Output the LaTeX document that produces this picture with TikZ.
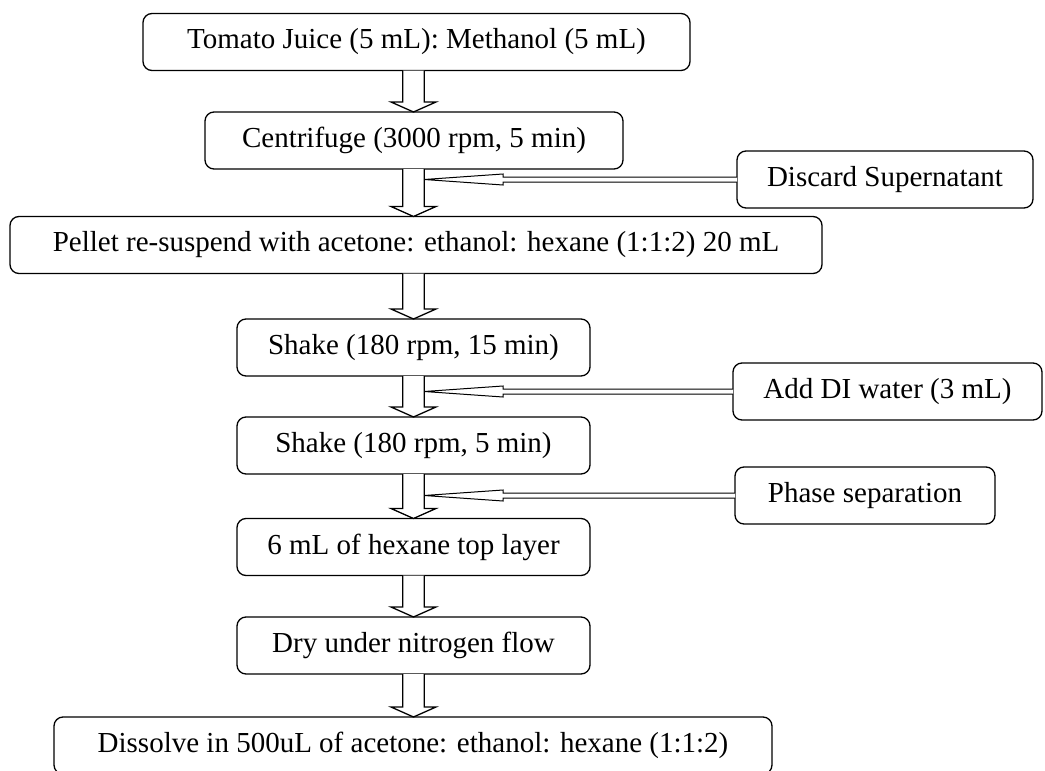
\documentclass[tikz,border=0pt]{standalone}
\usepackage{fontspec}
\setmainfont{Liberation Serif}
\usetikzlibrary{calc}
\tikzset{
  stepbox/.style={draw, line width=1.3pt, rounded corners=9pt, inner sep=0pt, outer sep=0pt,
    minimum height=57pt, font=\fontsize{29}{34}\selectfont},
  blk/.style={draw, line width=1.3pt, fill=white, line join=miter},
  sarr/.style={draw, line width=1pt, fill=white, line join=miter},
}
\newcommand{\blockarrow}[2]{%
  \draw[blk] ($(#1.south -| axis)+(-10.75,0)$) -- ($(#2.north -| axis)+(-10.75,-10)$)
    -- ($(#2.north -| axis)+(-22.5,-10)$) -- (#2.north -| axis)
    -- ($(#2.north -| axis)+(22.5,-10)$) -- ($(#2.north -| axis)+(10.75,-10)$)
    -- ($(#1.south -| axis)+(10.75,0)$);}
\newcommand{\sidearrow}[1]{%
  \draw[sarr] ($(#1.west)+(0,-2.5)$) -- ($(#1.west -| axis)+(89.5,-2.5)$)
    -- ($(#1.west -| axis)+(89.5,-5.5)$) -- ($(#1.west -| axis)+(10.75,0)$)
    -- ($(#1.west -| axis)+(89.5,5.5)$) -- ($(#1.west -| axis)+(89.5,2.5)$)
    -- ($(#1.west)+(0,2.5)$);}
\begin{document}
\begin{tikzpicture}[x=1pt,y=-1pt]
\useasboundingbox (0,0) rectangle (1045,771);
\coordinate (axis) at (413.5,0);
\node[stepbox, minimum width=547pt] (tomato) at (416.5,42) {Tomato Juice (5 mL): Methanol (5 mL)};
\node[stepbox, minimum width=418pt] (centri) at (414,140.5) {Centrifuge (3000 rpm, 5 min)};
\node[stepbox, minimum width=296pt] (discard) at (885,179.5) {Discard Supernatant};
\node[stepbox, minimum width=812pt] (pellet) at (416,245) {Pellet re-suspend with acetone: ethanol: hexane (1:1:2) 20 mL};
\node[stepbox, minimum width=353pt] (shake1) at (413.5,347.5) {Shake (180 rpm, 15 min)};
\node[stepbox, minimum width=309pt] (water) at (887.5,391.5) {Add DI water (3 mL)};
\node[stepbox, minimum width=353pt] (shake2) at (413.5,445.5) {Shake (180 rpm, 5 min)};
\node[stepbox, minimum width=260pt] (phase) at (865,495.5) {Phase separation};
\node[stepbox, minimum width=353pt] (hexane) at (413.5,547) {6 mL of hexane top layer};
\node[stepbox, minimum width=353pt] (dry) at (413.5,645.5) {Dry under nitrogen flow};
\node[stepbox, minimum width=718pt] (dissolve) at (413,745.5) {Dissolve in 500uL of acetone: ethanol: hexane (1:1:2)};
\blockarrow{tomato}{centri}
\blockarrow{centri}{pellet}
\blockarrow{pellet}{shake1}
\blockarrow{shake1}{shake2}
\blockarrow{shake2}{hexane}
\blockarrow{hexane}{dry}
\blockarrow{dry}{dissolve}
\sidearrow{discard}
\sidearrow{water}
\sidearrow{phase}
\end{tikzpicture}
\end{document}
